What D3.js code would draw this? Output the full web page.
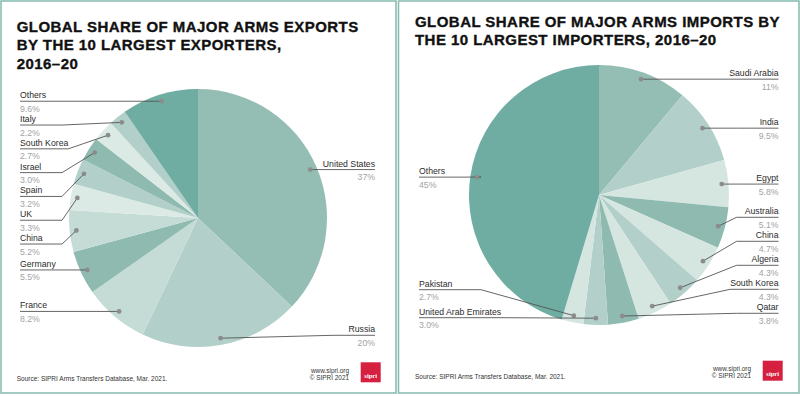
<!DOCTYPE html>
<html>
<head>
<meta charset="utf-8">
<script src="https://cdn.jsdelivr.net/npm/d3@7"></script>
<style>
  body { margin: 0; background: #fff; }
  svg { display: block; }
</style>
</head>
<body>
<svg id="chart" width="800" height="396"></svg>
<script>
// data (shares in %)
const exportTitle = ["GLOBAL SHARE OF MAJOR ARMS EXPORTS", "BY THE 10 LARGEST EXPORTERS,", "2016\u201320"];
const exportCountries = ["United States", "Russia", "France", "Germany", "China", "UK", "Spain", "Israel", "South Korea", "Italy", "Others"];
const exportShares = [37, 20, 8.2, 5.5, 5.2, 3.3, 3.2, 3.0, 2.7, 2.2, 9.6];

const importTitle = ["GLOBAL SHARE OF MAJOR ARMS IMPORTS BY", "THE 10 LARGEST IMPORTERS, 2016\u201320"];
const importCountries = ["Saudi Arabia", "India", "Egypt", "Australia", "China", "Algeria", "South Korea", "Qatar", "United Arab Emirates", "Pakistan", "Others"];
const importShares = [11, 9.5, 5.8, 5.1, 4.7, 4.3, 4.3, 3.8, 3.0, 2.7, 45];

const sourceText = "Source: SIPRI Arms Transfers Database, Mar. 2021.";

// slice colours
const exportColors = ["#94bdb3", "#b2d0c9", "#c5dcd6", "#8fbab0", "#c5dcd6", "#dceae6", "#b2d0c9", "#8fbab0", "#dceae6", "#b2d0c9", "#6fada2"];
const importColors = ["#94bdb3", "#b2d0c9", "#d5e6e1", "#8fbab0", "#d5e6e1", "#b2d0c9", "#d5e6e1", "#8fbab0", "#b2d0c9", "#d5e6e1", "#6fada2"];

const fmtPct = v => (v >= 10 ? d3.format(".0f")(v) : d3.format(".1f")(v)) + "%";

const svg = d3.select("#chart");
const font = "'Liberation Sans', Arial, sans-serif";

const panels = [
  {
    x: 1, w: 395, title: exportTitle, titleX: 16.7, titleY: 32,
    cx: 198, cy: 218, r: 129,
    countries: exportCountries, shares: exportShares, colors: exportColors,
    left: { x: 20, gap: 23.8, maxY: 340, elbow: 42 },
    right: { x: 375, gap: 23.8, maxY: 335.3, elbow: 42 },
    sourceX: 16.7, sourceY: 380.5, creditX: 349, creditY: 372.5, logoX: 360.7, logoY: 362.3
  },
  {
    x: 398.5, w: 400.5, title: importTitle, titleX: 415, titleY: 27,
    cx: 599, cy: 195, r: 130,
    countries: importCountries, shares: importShares, colors: importColors,
    left: { x: 419, gap: 28, maxY: 317.7, elbow: 62 },
    right: { x: 778.5, gap: 24, maxY: 313.3, elbow: 42 },
    sourceX: 415, sourceY: 378.5, creditX: 751, creditY: 371, logoX: 762.7, logoY: 360.7
  }
];

panels.forEach(p => drawPanel(p));

function drawPanel(p) {
  // frame
  svg.append("rect")
    .attr("x", p.x).attr("y", 1)
    .attr("width", p.w).attr("height", 392)
    .attr("fill", "none")
    .attr("stroke", "#8dbdb2")
    .attr("stroke-width", 1.6);

  // title (heavy face: bold plus a thin stroke)
  const title = svg.append("text")
    .attr("x", p.titleX).attr("y", p.titleY)
    .style("font-family", font)
    .style("font-weight", "bold")
    .style("font-size", "15px")
    .style("letter-spacing", "0.45px")
    .style("fill", "#111")
    .style("stroke", "#111")
    .style("stroke-width", "0.35px");
  title.selectAll("tspan")
    .data(p.title)
    .enter()
    .append("tspan")
    .attr("x", p.titleX)
    .attr("dy", (_, i) => i === 0 ? 0 : 18.3)
    .text(d => d);

  // pie
  const data = p.countries.map((c, i) => ({ name: c, value: p.shares[i], color: p.colors[i] }));
  const pieGenerator = d3.pie().sort(null).value(d => d.value);
  const slices = pieGenerator(data);

  const arcGenerator = d3.arc().innerRadius(0).outerRadius(p.r);
  const dotArc = d3.arc().innerRadius(p.r * 0.948).outerRadius(p.r * 0.948);

  const g = svg.append("g").attr("transform", "translate(" + p.cx + "," + p.cy + ")");
  g.selectAll("path")
    .data(slices)
    .enter()
    .append("path")
    .attr("d", arcGenerator)
    .attr("fill", d => d.data.color);

  // label placement: each side stacked top-down, pushed apart, then clamped at bottom
  slices.forEach(d => {
    const c = dotArc.centroid(d);
    d.dotX = p.cx + c[0];
    d.dotY = p.cy + c[1];
    d.side = d.dotX < p.cx ? "left" : "right";
  });

  ["left", "right"].forEach(side => {
    const cfg = p[side];
    const items = slices.filter(d => d.side === side).sort((a, b) => a.dotY - b.dotY);
    let prev = -Infinity;
    items.forEach(d => {
      d.lineY = Math.max(d.dotY, prev + cfg.gap);
      prev = d.lineY;
    });
    let next = cfg.maxY + cfg.gap;
    for (let i = items.length - 1; i >= 0; i--) {
      items[i].lineY = Math.min(items[i].lineY, next - cfg.gap);
      next = items[i].lineY;
    }

    items.forEach(d => {
      const anchor = side === "left" ? "start" : "end";
      const name = svg.append("text")
        .attr("x", cfg.x).attr("y", d.lineY - 3)
        .style("font-family", font)
        .style("font-size", "8.7px")
        .style("fill", "#2b2b2b")
        .style("text-anchor", anchor)
        .text(d.data.name);
      svg.append("text")
        .attr("x", cfg.x).attr("y", d.lineY + 10.5)
        .style("font-family", font)
        .style("font-size", "8.7px")
        .style("fill", "#a3a3a3")
        .style("text-anchor", anchor)
        .text(fmtPct(d.data.value));

      const tw = name.node().getComputedTextLength();
      const off = Math.max(cfg.elbow, tw);
      const elbowX = side === "left" ? cfg.x + off : cfg.x - off;
      svg.append("polyline")
        .attr("points", [[cfg.x, d.lineY], [elbowX, d.lineY], [d.dotX, d.dotY]].join(" "))
        .attr("fill", "none")
        .attr("stroke", "#555")
        .attr("stroke-width", 0.9);
      svg.append("circle")
        .attr("cx", d.dotX).attr("cy", d.dotY)
        .attr("r", 2.4)
        .attr("fill", "#8c8c8c");
    });
  });

  // footer
  svg.append("text")
    .attr("x", p.sourceX).attr("y", p.sourceY)
    .style("font-family", font)
    .style("font-size", "6.5px")
    .style("fill", "#333")
    .text(sourceText);

  svg.append("text")
    .attr("x", p.creditX).attr("y", p.creditY)
    .style("font-family", font)
    .style("font-size", "6.4px")
    .style("fill", "#333")
    .style("text-anchor", "end")
    .text("www.sipri.org");
  svg.append("text")
    .attr("x", p.creditX).attr("y", p.creditY + 7)
    .style("font-family", font)
    .style("font-size", "6.4px")
    .style("fill", "#333")
    .style("text-anchor", "end")
    .text("\u00a9 SIPRI 2021");

  svg.append("rect")
    .attr("x", p.logoX).attr("y", p.logoY)
    .attr("width", 20).attr("height", 20)
    .attr("fill", "#d5203f");
  svg.append("text")
    .attr("x", p.logoX + 10).attr("y", p.logoY + 15.5)
    .style("font-family", "'Liberation Serif', 'DejaVu Serif', serif")
    .style("font-weight", "bold")
    .style("font-size", "6.5px")
    .style("fill", "#fff")
    .style("text-anchor", "middle")
    .text("sipri");
}
</script>
</body>
</html>
